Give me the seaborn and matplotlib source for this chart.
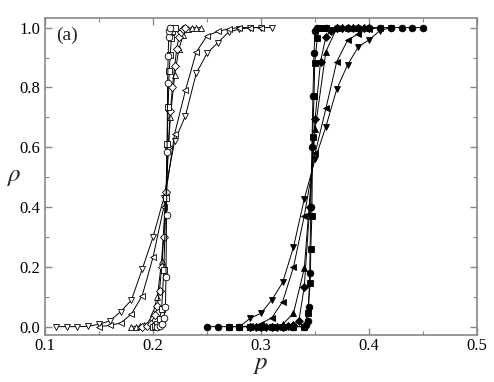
import numpy as np
import pandas as pd
import matplotlib
matplotlib.use("Agg")
import matplotlib.pyplot as plt
import seaborn as sns
from matplotlib.ticker import MultipleLocator

# open symbols, transition near p = 0.213
p_dn_open = [0.11, 0.12, 0.13, 0.14, 0.15, 0.16, 0.17, 0.18, 0.19, 0.20, 0.21,
             0.22, 0.23, 0.24, 0.25, 0.26, 0.27, 0.28, 0.29, 0.30, 0.31]
r_dn_open = [0.0, 0.0, 0.0, 0.001, 0.008, 0.019, 0.05, 0.089, 0.192, 0.299, 0.43,
             0.62, 0.705, 0.847, 0.914, 0.95, 0.985, 0.995, 1.0, 1.0, 1.0]

p_lt_open = [0.15, 0.16, 0.17, 0.18, 0.19, 0.20, 0.21, 0.22, 0.23, 0.24,
             0.25, 0.26, 0.27, 0.28, 0.29, 0.30]
r_lt_open = [0.0, 0.004, 0.012, 0.042, 0.104, 0.232, 0.40, 0.645, 0.79, 0.918,
             0.973, 0.987, 0.996, 1.0, 1.0, 1.0]

p_up_open = [0.180, 0.184, 0.188, 0.192, 0.196, 0.200, 0.204, 0.208, 0.212,
             0.216, 0.220, 0.224, 0.228, 0.232, 0.236, 0.240, 0.244]
r_up_open = [0.0, 0.0, 0.002, 0.005, 0.015, 0.045, 0.10, 0.22, 0.45,
             0.70, 0.84, 0.93, 0.975, 0.995, 1.0, 1.0, 1.0]

p_di_open = [0.190, 0.194, 0.198, 0.202, 0.204, 0.206, 0.208, 0.210, 0.212,
             0.214, 0.216, 0.218, 0.220, 0.222, 0.224, 0.226, 0.228, 0.230]
r_di_open = [0.0, 0.003, 0.01, 0.04, 0.07, 0.12, 0.20, 0.30, 0.45,
             0.60, 0.72, 0.80, 0.87, 0.93, 0.97, 0.985, 0.995, 1.0]

p_sq_open = [0.200, 0.202, 0.204, 0.206, 0.208, 0.210, 0.212, 0.213, 0.214,
             0.215, 0.216, 0.217, 0.218, 0.220]
r_sq_open = [0.0, 0.002, 0.008, 0.025, 0.06, 0.19, 0.43, 0.61, 0.735,
             0.855, 0.91, 0.965, 0.99, 1.0]

p_ci_open = [0.204, 0.206, 0.208, 0.210, 0.2115, 0.212, 0.2125, 0.213, 0.2135,
             0.214, 0.2145, 0.215, 0.216]
r_ci_open = [0.0, 0.003, 0.01, 0.03, 0.067, 0.167, 0.373, 0.585, 0.815,
             0.905, 0.97, 0.99, 1.0]

# filled symbols, transition near p = 0.347
p_dn_fill = [0.28, 0.29, 0.30, 0.31, 0.32, 0.33, 0.34, 0.35, 0.36, 0.37,
             0.38, 0.39, 0.40, 0.41, 0.42]
r_dn_fill = [0.0, 0.028, 0.045, 0.09, 0.148, 0.266, 0.427, 0.56, 0.669, 0.794,
             0.875, 0.936, 0.959, 0.99, 1.0]

p_lt_fill = [0.28, 0.29, 0.30, 0.31, 0.32, 0.33, 0.34, 0.35, 0.36, 0.37,
             0.38, 0.39, 0.40, 0.41]
r_lt_fill = [0.0, 0.002, 0.01, 0.03, 0.084, 0.199, 0.371, 0.58, 0.73, 0.886,
             0.957, 0.98, 0.995, 1.0]

p_up_fill = [0.29, 0.30, 0.31, 0.32, 0.33, 0.34, 0.35, 0.36, 0.37, 0.38, 0.39, 0.40]
r_up_fill = [0.0, 0.0, 0.002, 0.008, 0.045, 0.195, 0.66, 0.92, 0.998, 1.0, 1.0, 1.0]

p_di_fill = [0.290, 0.295, 0.300, 0.305, 0.310, 0.315, 0.320, 0.325, 0.330,
             0.335, 0.340, 0.345, 0.350, 0.355, 0.360, 0.365, 0.370, 0.375,
             0.380, 0.385, 0.390, 0.395, 0.400]
r_di_fill = [0.0, 0.0, 0.0, 0.0, 0.0, 0.0, 0.0, 0.002, 0.005,
             0.02, 0.134, 0.40, 0.695, 0.886, 0.97, 0.99, 1.0, 1.0,
             1.0, 1.0, 1.0, 1.0, 1.0]

p_sq_fill = [0.27, 0.28, 0.29, 0.30, 0.31, 0.32, 0.33, 0.34, 0.343, 0.3455,
             0.346, 0.347, 0.3477, 0.349, 0.3496, 0.352, 0.354, 0.356, 0.36]
r_sq_fill = [0.0, 0.0, 0.0, 0.0, 0.0, 0.0, 0.0, 0.0, 0.045, 0.147,
             0.26, 0.37, 0.635, 0.77, 0.88, 0.965, 1.0, 1.0, 1.0]

p_ci_fill = [0.25, 0.26, 0.27, 0.28, 0.29, 0.30, 0.31, 0.32, 0.33, 0.34,
             0.342, 0.343, 0.344, 0.345, 0.346, 0.347, 0.348, 0.349, 0.350,
             0.352, 0.36, 0.37, 0.38, 0.39, 0.40, 0.41, 0.42, 0.43, 0.44, 0.45]
r_ci_fill = [0.0, 0.0, 0.0, 0.0, 0.0, 0.0, 0.0, 0.0, 0.0, 0.0,
             0.005, 0.02, 0.067, 0.18, 0.40, 0.60, 0.77, 0.915, 0.99,
             1.0, 1.0, 1.0, 1.0, 1.0, 1.0, 1.0, 1.0, 1.0, 1.0, 1.0]

series = [
    (p_dn_open, r_dn_open, "v", "white"),
    (p_lt_open, r_lt_open, "<", "white"),
    (p_up_open, r_up_open, "^", "white"),
    (p_di_open, r_di_open, "D", "white"),
    (p_sq_open, r_sq_open, "s", "white"),
    (p_ci_open, r_ci_open, "o", "white"),
    (p_dn_fill, r_dn_fill, "v", "black"),
    (p_lt_fill, r_lt_fill, "<", "black"),
    (p_up_fill, r_up_fill, "^", "black"),
    (p_di_fill, r_di_fill, "D", "black"),
    (p_sq_fill, r_sq_fill, "s", "black"),
    (p_ci_fill, r_ci_fill, "o", "black"),
]

sns.set_theme(style="ticks")
plt.rcParams["font.family"] = ["Liberation Serif", "DejaVu Serif"]
plt.rcParams["mathtext.fontset"] = "stix"

fig = plt.figure(figsize=(4.94, 3.82), dpi=100)
ax = fig.add_axes([0.091, 0.123, 0.875, 0.829])

for px, ry, mk, fc in series:
    ms = 3.8 if mk == "D" else 4.8
    sns.lineplot(x=px, y=ry, ax=ax, color="black", lw=0.7, marker=mk,
                 markersize=ms, markerfacecolor=fc, markeredgecolor="black",
                 markeredgewidth=0.6, estimator=None, sort=False)

ax.set_xlim(0.1, 0.5)
ax.set_ylim(-0.028, 1.031)
ax.xaxis.set_major_locator(MultipleLocator(0.1))
ax.xaxis.set_minor_locator(MultipleLocator(0.05))
ax.yaxis.set_major_locator(MultipleLocator(0.2))
ax.yaxis.set_minor_locator(MultipleLocator(0.1))
ax.set_xticklabels([f"{v:.1f}" for v in ax.get_xticks()])
ax.set_yticklabels([f"{v:.1f}" for v in ax.get_yticks()])

frame = "#888888"
for s in ax.spines.values():
    s.set_color(frame)
    s.set_linewidth(1.2)
ax.tick_params(which="both", direction="in", top=True, right=True,
               color=frame, labelsize=12, labelcolor="black")
ax.tick_params(which="major", length=5, width=1)
ax.tick_params(which="minor", length=3, width=0.8)
ax.tick_params(axis="x", which="major", pad=2)

ax.set_xlabel(r"$p$", fontsize=18, labelpad=0)
ax.set_ylabel(r"$\rho$", fontsize=18, rotation=0, labelpad=4, va="center")
ax.text(0.025, 0.975, "(a)", transform=ax.transAxes, fontsize=14,
        ha="left", va="top")

fig.savefig("out.png", dpi=100)
